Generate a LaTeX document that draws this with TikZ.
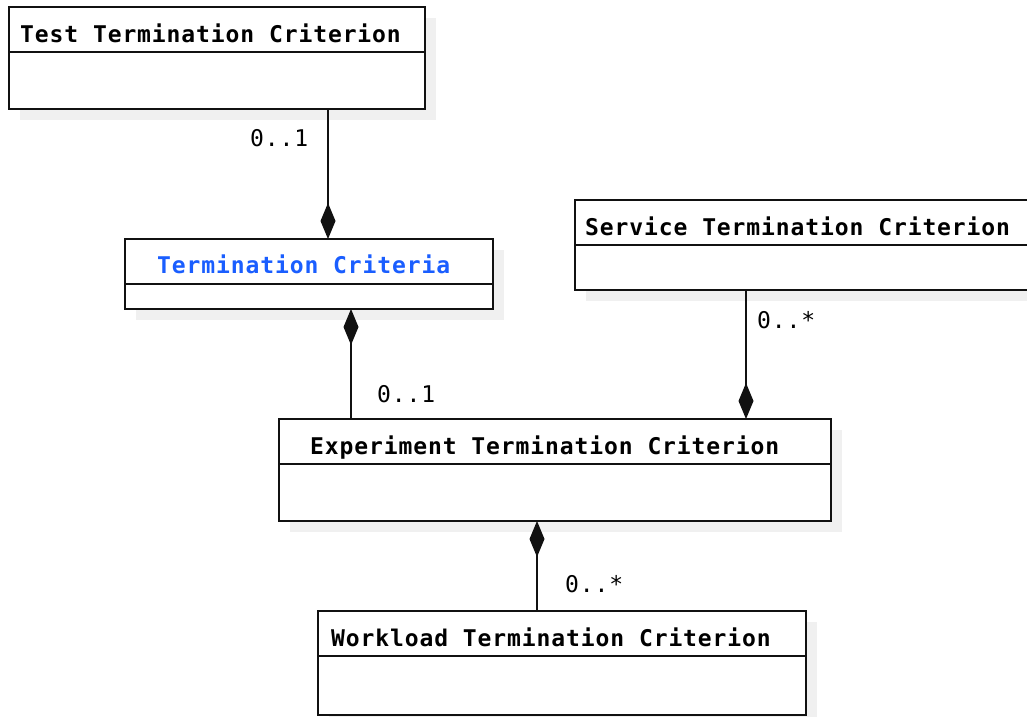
\documentclass[tikz,border=0pt]{standalone}
\usepackage{fontspec}
\usetikzlibrary{arrows.meta,calc,shadows}
\newfontfamily\umlfont[LetterSpace=3.9]{DejaVu Sans Mono}
\definecolor{shadowgray}{HTML}{F0F0F0}
\definecolor{linkblue}{HTML}{1A5EFF}
\definecolor{ink}{HTML}{111111}
\tikzset{
  umlbox/.style={draw=ink, line width=1.5pt, fill=white, anchor=north west,
    inner sep=0pt, outer sep=0pt,
    drop shadow={shadow xshift=11pt, shadow yshift=-11pt, fill=shadowgray, opacity=1}},
  umltitle/.style={anchor=base west, inner sep=0pt, font=\umlfont\bfseries\fontsize{23}{27}\selectfont},
  mult/.style={anchor=base west, inner sep=0pt, font=\umlfont\fontsize{23}{27}\selectfont},
  divider/.style={draw=ink, line width=1.5pt},
  compo/.style={draw=ink, line width=1.5pt, -{Diamond[length=36pt,width=15pt]}},
}
\begin{document}
\begin{tikzpicture}[x=1pt,y=-1pt]
\useasboundingbox (0,0) rectangle (1027,716);

% class boxes
\node[umlbox, minimum width=416, minimum height=102] (test) at (9,7) {};
\node[umlbox, minimum width=368, minimum height=70] (crit) at (125,239) {};
\node[umlbox, minimum width=470, minimum height=90] (serv) at (575,200) {};
\node[umlbox, minimum width=552, minimum height=102] (expt) at (279,419) {};
\node[umlbox, minimum width=488, minimum height=104] (work) at (318,611) {};

% compartment separators
\foreach \b in {test,crit,serv,expt,work}
  \draw[divider] ($(\b.north west)+(0,45)$) -- ($(\b.north east)+(0,45)$);

% class names
\node[umltitle] (testname) at (20,42) {Test Termination Criterion};
\node[umltitle, text=linkblue] (critname) at (157,273) {Termination Criteria};
\node[umltitle] (servname) at (585,235) {Service Termination Criterion};
\node[umltitle] (exptname) at (310,454) {Experiment Termination Criterion};
\node[umltitle] (workname) at (331,646) {Workload Termination Criterion};

% connector columns
\coordinate (c1) at (328,0);
\coordinate (c2) at (351,0);
\coordinate (c3) at (746,0);
\coordinate (c4) at (537,0);

% composition links
\draw[compo] (test.south -| c1) -- (crit.north -| c1);
\draw[compo] (expt.north -| c2) -- (crit.south -| c2);
\draw[compo] (serv.south -| c3) -- (expt.north -| c3);
\draw[compo] (work.north -| c4) -- (expt.south -| c4);

% multiplicities
\node[mult] (m1) at (250,146) {0..1};
\node[mult] (m2) at (377,402) {0..1};
\node[mult] (m3) at (757,328) {0..*};
\node[mult] (m4) at (565,592) {0..*};
\end{tikzpicture}
\end{document}
